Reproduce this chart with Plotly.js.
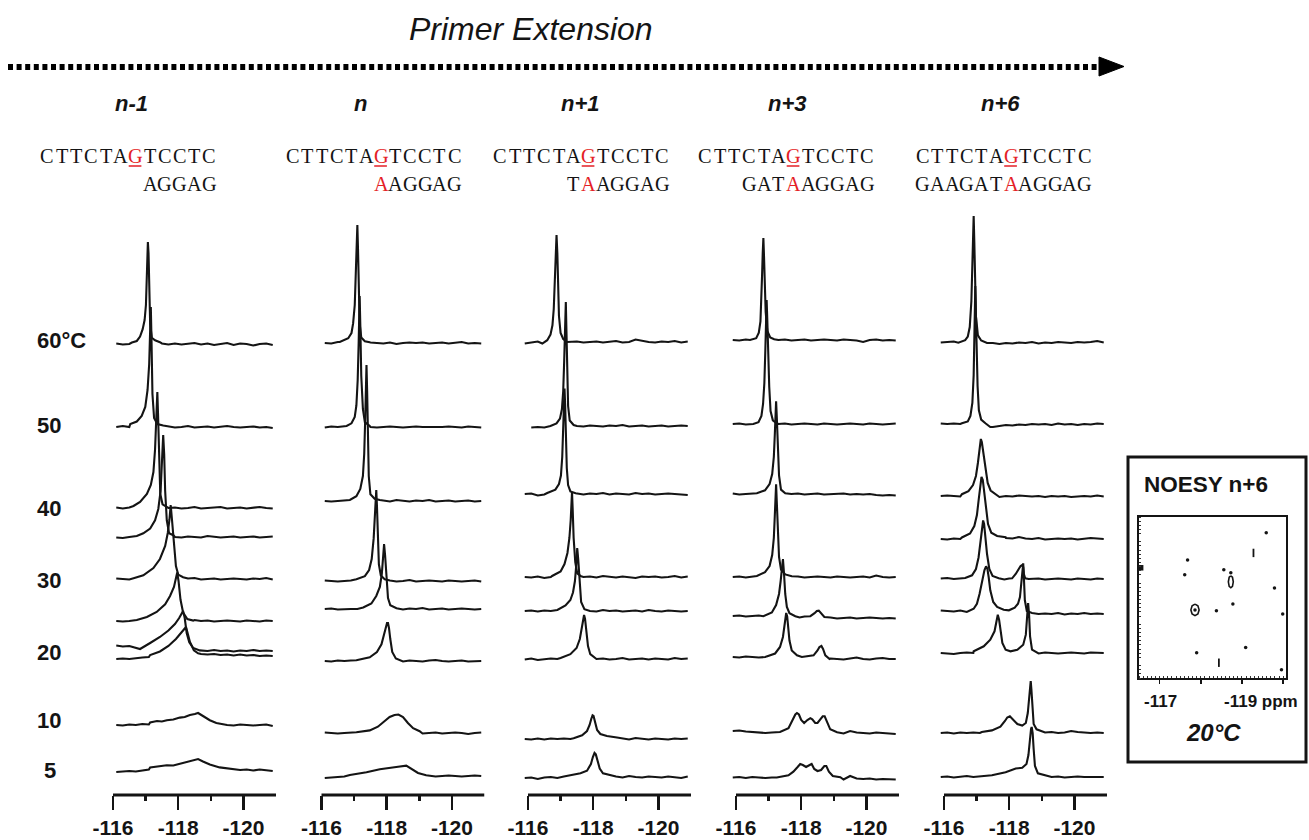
<!DOCTYPE html>
<html><head><meta charset="utf-8">
<script src="https://cdn.plot.ly/plotly-3.0.1.min.js"></script>
<style>html,body{margin:0;padding:0;background:#fff}#chart{width:1309px;height:840px}</style>
</head><body><div id="chart"></div>
<script>
// ---------------- DATA ----------------
const panelNames = ['n-1', 'n', 'n+1', 'n+3', 'n+6'];
const topStrand = 'CTTCTAGTCCTC';
const bottomStrands = ['AGGAG', 'AAGGAG', 'TAAGGAG', 'GATAAGGAG', 'GAAGATAAGGAG'];
const mismatchSlot = 6;
const tempLabels = ['60°C', '50', '40', '30', '20', '10', '5'];
const tempLevels = [455, 370, 287, 215, 143, 75, 25];
const tickVals = [-116, -118, -120];
const tickText = ['-116', '-118', '-120'];

// chemical shift grid (ppm) for baseline noise samples
const baseGrid = [-115.9,-116.1,-116.3,-116.5,-116.7,-116.9,-117.1,-117.3,-117.5,-117.7,-117.9,-118.1,-118.3,-118.5,-118.7,-118.9,-119.1,-119.3,-119.5,-119.7,-119.9,-120.1,-120.3,-120.5,-120.7,-120.9];

// stacking level of each spectrum (top = 60 °C ... bottom = 5 °C)
const nm1Offsets = [451, 368, 287, 258, 216, 174, 149, 138, 70, 25];
const nOffsets   = [452, 368, 294, 214, 186, 134, 62, 19];
const np1Offsets = [453, 369, 301, 218, 184, 136, 56, 18];
const np3Offsets = [455, 371, 301, 218, 177, 136, 62, 16];
const np6Offsets = [453, 371, 299, 256, 216, 184, 142, 62, 18];

// peak regions: [ppm, intensity, ppm, intensity, ...]
const nm1Peaks = [
 [-116.58,1.5,-116.73,3,-116.83,7.4,-116.91,14.8,-116.97,24,-117.01,39,-117.04,65,-117.06,87,-117.07,102,-117.09,91,-117.11,57,-117.14,20,-117.19,6.3,-117.29,3.7,-117.44,1.8],
 [-116.53,3,-116.73,5.5,-116.88,11,-116.99,20,-117.06,37,-117.11,63,-117.14,96,-117.16,120,-117.18,89,-117.21,33,-117.26,9,-117.36,3,-117.54,1.5],
 [-116.63,2,-116.83,6,-117.04,14,-117.16,23,-117.24,36,-117.29,58.5,-117.32,84,-117.34,103,-117.36,116,-117.38,95.5,-117.41,51,-117.45,14,-117.52,3.7,-117.65,1.5],
 [-116.73,1,-116.93,3.7,-117.14,8.5,-117.29,16.7,-117.39,28,-117.46,46,-117.50,68.5,-117.52,87,-117.54,102,-117.57,83,-117.60,46,-117.65,16.7,-117.72,3.7,-117.85,1.8],
 [-116.63,0.7,-116.93,3.7,-117.24,11,-117.44,20,-117.60,33,-117.68,46,-117.73,59,-117.77,74,-117.81,59,-117.87,33,-117.93,13,-118.00,4.4,-118.15,1.8],
 [-116.73,1,-117.04,4,-117.34,9,-117.60,16.7,-117.75,25,-117.87,34,-117.93,42,-117.97,48.5,-118.01,40,-118.07,21.5,-118.15,8.5,-118.28,2,-118.46,0.4],
 [-116.83,-3,-117.14,3,-117.44,9,-117.70,15.5,-117.90,22,-118.03,28,-118.10,31.5,-118.15,35,-118.20,28,-118.26,13,-118.34,3.7,-118.46,-2,-118.66,-4.4],
 [-117.14,2,-117.44,5.5,-117.70,11,-117.93,18,-118.10,24,-118.20,28,-118.24,30,-118.28,25,-118.36,15,-118.48,6.7,-118.61,3.7],
 [-117.14,2.6,-117.35,4,-117.5,3.5,-117.65,4.8,-117.85,5.5,-118.05,7.4,-118.2,8,-118.36,10,-118.51,11,-118.61,12,-118.76,9,-118.97,4.8,-119.17,2,-119.37,0.7],
 [-117.14,2.6,-117.4,3.5,-117.65,4.8,-117.85,4.5,-118.05,6.3,-118.36,8.5,-118.61,11,-118.76,8.5,-118.97,5.5,-119.27,2.6,-119.58,1]
];
const nPeaks = [
 [-116.56,1,-116.82,4.8,-116.92,10,-116.97,19.6,-117.02,38,-117.05,68,-117.08,101,-117.10,118,-117.12,94,-117.14,57,-117.17,19.6,-117.22,5.5,-117.33,1.8,-117.48,0.7],
 [-116.77,1,-116.92,3.7,-117.02,10,-117.07,21.5,-117.11,47,-117.14,84,-117.16,114,-117.17,131,-117.19,103,-117.22,51,-117.27,18,-117.33,4.8,-117.48,1],
 [-116.87,1,-117.07,4.8,-117.19,12,-117.27,25,-117.31,47,-117.34,81,-117.36,110,-117.38,136,-117.40,110,-117.42,66,-117.45,25,-117.50,6.7,-117.63,2.2,-117.79,1],
 [-117.07,1.8,-117.33,4.8,-117.46,11,-117.54,22,-117.60,42.6,-117.64,68.5,-117.66,83,-117.68,91,-117.70,76,-117.73,42.6,-117.76,16.7,-117.82,5.5,-117.94,1.8],
 [-117.28,1.5,-117.53,5.5,-117.68,13,-117.79,22,-117.85,35,-117.89,52,-117.92,65,-117.95,54,-117.99,30,-118.04,11,-118.11,3.7,-118.30,0.7],
 [-117.07,0.7,-117.48,3.7,-117.70,9,-117.84,16.7,-117.92,26,-117.97,33,-118.01,38,-118.04,38,-118.07,33,-118.11,22,-118.17,9,-118.28,2.6,-118.45,0.7],
 [-117.07,0.7,-117.48,2.6,-117.73,6.3,-117.94,12,-118.09,16,-118.24,18,-118.36,18.5,-118.50,16,-118.65,10,-118.81,4.8,-119.01,1.8],
 [-116.87,1,-117.38,3.7,-117.79,6.7,-118.09,8.5,-118.35,9.3,-118.60,10.4,-118.76,7.4,-118.96,3,-119.21,0.7]
];
const np1Peaks = [
 [-116.44,-1.5,-116.59,1.8,-116.69,7.4,-116.75,16.7,-116.79,33,-116.83,67,-116.85,89,-116.875,107,-116.90,89,-116.92,59,-116.95,26,-117.00,9,-117.08,3,-117.20,0],
 [-116.69,0,-116.875,2.6,-116.98,7.4,-117.04,16.7,-117.08,35,-117.11,65,-117.13,94,-117.16,124,-117.18,94,-117.20,57,-117.23,20,-117.28,5.5,-117.40,1],
 [-116.59,1,-116.84,4.4,-116.95,10,-117.01,18.5,-117.05,37,-117.08,67,-117.10,89,-117.12,105.5,-117.14,89,-117.16,59,-117.19,26,-117.23,9,-117.30,2.6,-117.46,0.7],
 [-116.74,1,-117.00,5.5,-117.12,13,-117.21,24,-117.27,39,-117.31,57,-117.33,72,-117.35,85,-117.37,68.5,-117.40,39,-117.45,15,-117.51,3.7,-117.63,0.7],
 [-116.90,1,-117.15,5.5,-117.30,11,-117.38,18.5,-117.44,30,-117.48,46,-117.51,63,-117.54,52,-117.58,28,-117.63,9,-117.73,1.8,-117.86,0],
 [-117.00,1,-117.30,4.8,-117.49,11,-117.59,20,-117.65,30,-117.69,39,-117.72,44,-117.75,40,-117.79,28,-117.84,13,-117.91,4.8,-118.07,1],
 [-117.40,0.7,-117.66,3.7,-117.81,8,-117.89,14,-117.94,20,-117.98,23.7,-118.01,23,-118.05,16.7,-118.12,9,-118.22,5,-118.42,3,-118.73,1.5],
 [-117.30,1.8,-117.61,3.7,-117.81,6.3,-117.93,13,-117.99,20,-118.04,24,-118.08,22.6,-118.13,16,-118.20,8.5,-118.30,3.7,-118.52,1.8]
];
const np3Peaks = [
 [-116.43,0,-116.62,1.8,-116.70,7.4,-116.75,18.5,-116.78,39,-116.80,65,-116.82,87,-116.84,102,-116.86,83,-116.88,57,-116.91,28,-116.96,9,-117.05,2.6,-117.17,0.7],
 [-116.53,0,-116.69,1.8,-116.78,8,-116.83,20,-116.87,41,-116.90,74,-116.92,104,-116.94,124,-116.96,104,-116.98,70,-117.02,37,-117.06,13,-117.13,3.7,-117.25,0.7],
 [-116.64,0.7,-116.89,3.7,-117.03,10,-117.11,20,-117.16,37,-117.19,59,-117.21,78,-117.23,92.6,-117.25,78,-117.28,48,-117.32,18.5,-117.38,4.4,-117.51,0.7],
 [-116.64,1,-116.89,4.8,-117.03,11,-117.11,22,-117.16,39,-117.19,61,-117.21,80,-117.23,92.6,-117.25,76,-117.28,46,-117.32,20,-117.38,7.4,-117.51,2.6,-117.71,0.7],
 [-116.84,1.8,-117.10,5.5,-117.23,13,-117.32,24,-117.37,37,-117.41,48,-117.44,59,-117.47,46,-117.51,24,-117.56,11,-117.64,4.8,-117.82,1.8,-117.95,0.5,-118.1,1.5,-118.28,1.8,-118.41,4.8,-118.48,7,-118.54,7.4,-118.61,4.8,-118.71,1],
 [-116.94,2.6,-117.20,5.5,-117.35,12,-117.44,22,-117.49,33,-117.52,42.6,-117.54,46,-117.57,42.6,-117.60,33,-117.64,18.5,-117.71,8.5,-117.87,3.7,-118.02,2,-118.17,2.6,-118.38,3.7,-118.50,8.5,-118.56,12,-118.62,13,-118.67,10,-118.74,3.7,-118.87,0],
 [-117.35,1,-117.61,4.8,-117.74,13,-117.82,18.5,-117.87,20,-117.93,18.5,-118.00,13,-118.09,10,-118.19,13,-118.28,14.8,-118.34,13.7,-118.43,10,-118.50,10,-118.58,13.7,-118.66,16.7,-118.72,16.7,-118.79,11,-118.89,3.7,-119.10,0.7],
 [-117.25,1.5,-117.61,3.7,-117.76,7.4,-117.89,12,-117.97,15,-118.05,14,-118.15,12,-118.26,14,-118.32,15,-118.40,10,-118.50,8,-118.61,9,-118.71,13,-118.77,13,-118.85,7.4,-118.97,3,-119.20,1.8]
];
const np6Peaks = [
 [-116.44,-0.7,-116.65,1.8,-116.73,5.5,-116.79,15,-116.84,41,-116.87,74,-116.89,107,-116.91,126,-116.93,100,-116.95,63,-116.98,26,-117.04,6.7,-117.14,1.5,-117.32,-1],
 [-116.55,0.7,-116.73,2.6,-116.81,8,-116.87,21,-116.91,49,-116.93,78.5,-116.95,112,-116.96,138,-116.98,108,-117.00,71,-117.03,38,-117.07,13.7,-117.14,4.4,-117.27,0.7,-117.42,-3],
 [-116.55,1.8,-116.75,4.8,-116.89,11,-116.98,20,-117.04,33,-117.08,46,-117.11,54,-117.13,57,-117.16,54,-117.20,44,-117.27,26,-117.34,13,-117.43,5.5,-117.58,1.8],
 [-116.55,1.5,-116.80,5.5,-116.93,13,-117.01,24,-117.07,41,-117.12,55.5,-117.15,62,-117.19,59,-117.23,48,-117.28,29.6,-117.35,15,-117.45,6.3,-117.63,3,-117.89,1.8],
 [-116.65,1,-116.86,3.7,-116.98,10,-117.06,21.5,-117.12,38,-117.16,53,-117.20,58.5,-117.23,55,-117.27,42,-117.32,25,-117.39,10,-117.49,3,-117.68,0.7,-117.85,-0.5,-118.0,0.5,-118.09,0.7,-118.20,5,-118.28,9.5,-118.35,13,-118.40,14,-118.43,12,-118.45,5,-118.49,0.7,-118.6,0],
 [-116.70,-1,-116.91,2.3,-117.01,7.3,-117.09,17,-117.17,30.7,-117.24,40.7,-117.29,44.7,-117.33,42.3,-117.37,34,-117.42,20.7,-117.51,9,-117.63,4,-117.83,1.3,-117.99,0.7,-118.17,3.3,-118.27,7.3,-118.33,14,-118.37,27.3,-118.40,40.7,-118.43,47.7,-118.45,34,-118.48,10.7,-118.54,0,-118.66,-1.7],
 [-116.91,1.7,-117.22,6.7,-117.42,13.3,-117.55,21.7,-117.61,31.7,-117.65,38.3,-117.69,33.3,-117.73,21.7,-117.79,10,-117.89,3.3,-118.04,1.7,-118.25,3.3,-118.43,8.3,-118.51,18.3,-118.55,38.3,-118.58,50,-118.61,38.3,-118.64,16.7,-118.70,3.3,-118.87,0],
 [-117.16,1,-117.47,2.6,-117.73,6.3,-117.87,12,-117.94,15.5,-118.02,16.7,-118.11,13.7,-118.25,9,-118.40,7.4,-118.51,10,-118.57,20,-118.61,37,-118.64,50,-118.66,52,-118.68,44,-118.71,24,-118.75,9,-118.84,3.7,-119.02,1.8],
 [-117.47,1.8,-117.89,4.8,-118.20,8.5,-118.40,9.3,-118.53,13,-118.59,22,-118.63,37,-118.67,48,-118.69,50,-118.72,44,-118.75,28,-118.79,11,-118.88,3.7,-119.12,1.8]
];

// baseline noise read at baseGrid points (null = outside recorded window)
const nm1Noise = [
 [null,0.5,-0.5,0,1, 0,0,0,0.5,-0.5, 0.5,-0.5,0,1,-0.5, 0.5,-1,0,1,-1, 0.5,0,-1.5,0,0.5, -1],
 [null,0,1,0,-0.5, 0,0,0,0,0.5, -0.5,0,1,-0.5,0, 0.5,-0.5,0.5,1,0, -0.5,0,0.5,-0.5,0, -1],
 [null,0.5,-0.5,0.5,0, 0,0,0,0,0, 0.5,-0.5,0,1,-0.5, 0,0.5,1,-0.5,0, 0.5,-0.5,0,1,0, -0.5],
 [null,-0.5,-1,0,0.5, 0,0,0,0,0, 0,-0.5,0.5,0,-0.5, 1,0,-0.5,0,0.5, -0.5,0,0.5,-0.5,0, 0.5],
 [null,0.5,0,-0.5,0, 0,0,0,0,0, 0,0,0.5,1,-0.5, 0,0.5,-0.5,0,0.5, 0,-0.5,0.5,0,1, -0.5],
 [null,0,-0.5,0,0.5, 0,0,0,0,0, 0,0,0,1,0, 0.5,-0.5,0,0.5,0, -0.5,0.5,0,-0.5,0.5, 0],
 [null,0.5,-0.5,0,-1.5, 0,0,0,0,0, 0,0,0,0,-4.5, -5,-4,-5,-4.5,-5.5, -4.5,-5,-4,-5,-4.5, -5],
 [null,-2,-1.5,-2,-1, -0.5,0,0,0,0, 0,0,0,0,3, 2.5,3,2,2.5,1.5, 2.5,1.5,2,1,1.5, 1],
 [null,0,-0.5,0.5,0, 1,0.5,0,0,0, 0,0,0,0,0, 0,0,0,0,-0.5, 0.5,0,-0.5,0,0.5, -1],
 [null,-2,-1.5,-1,-1.5, -0.5,0.5,0,0,0, 0,0,0,0,0, 0,0,0,0,0.5, 0,0.5,-0.5,0.5,-0.5, -1]
];
const nNoise = [
 [null,0,-0.5,1,-0.5, 0,0,0,0.5,0, -0.5,0.5,-1,0,0.5, 0,0.5,-0.5,0,0.5, -0.5,0,1,-0.5,0, -0.5],
 [null,-0.5,0.5,0,1, 0,0,0,0,-0.5, 0,0.5,0,-0.5,0, 0.5,0,0,-0.5,0, 0.5,0,-0.5,0.5,0, -0.5],
 [null,0,-0.5,0,0.5, 0,0,0,0,0, 0.5,-0.5,1,0,-0.5, 0.5,0,1,-0.5,0, 0.5,-0.5,0,0.5,-0.5, 0],
 [null,0.5,0,-0.5,0, 0.5,0,0,0,0, 0,0.5,-0.5,0,1, -0.5,0,0.5,0,-0.5, 0.5,0,-0.5,0,0.5, -0.5],
 [null,0,0.5,-0.5,0, 0,0,0,0,0, 0,0,0,-0.5,0.5, 0,1,-0.5,0,0.5, -0.5,0,0.5,0,-0.5, 0],
 [null,0,-0.5,0.5,0, 0.5,0,0,0,0, 0,0,0,-0.5,0.5, 0,-0.5,0.5,1,0, -0.5,0,0.5,-0.5,-0.5, 0],
 [null,0.5,0,-0.5,0, 0.5,0,0,0,0, 0,0,0,0,0, 0,-0.5,0,0.5,-0.5, 0,0.5,0,-1,0, 0.5],
 [null,-2,-1.5,-1,-0.5, 0,0,0,0,0, 0,0,0,0,0, 0,0,0.5,-0.5,0, 0.5,0,-0.5,0,0.5, 0]
];
const np1Noise = [
 [-1.5,-0.5,0.5,-1,0.5, 0,0,0,0.5,-0.5, 0,0.5,-0.5,0,1, -0.5,0,2.5,1,0, -0.5,0.5,0,1,-0.5, 0.5],
 [null,-1.5,-1,-1.5,-0.5, 0,0,0,0,-0.5, 0.5,0,-0.5,0.5,0, 1,-0.5,0,0.5,-0.5, 0,0.5,-0.5,0,0.5, 0],
 [0,0.5,-1.5,-0.5,0.5, 0,0,0,0.5,-0.5, 0.5,0,1,-0.5,0.5, 0,-0.5,1,0,0.5, -0.5,0,0.5,0,-0.5, -1],
 [0,-0.5,0.5,-1,0, 0.5,0,0,0,0, 0.5,-0.5,1,0,-0.5, 0.5,0,-1,0.5,0, 0.5,-0.5,0,1,-0.5, 0.5],
 [0,0.5,-0.5,0.5,0, 0,0,0,0,0, 0,-0.5,1,0,0.5, -0.5,0,0.5,-0.5,1, 0,-0.5,0.5,0,-0.5, 0],
 [-0.5,0.5,-1,0,0.5, 0,0,0,0,0, 0,0,0.5,-0.5,0, 1,-0.5,0,0.5,-0.5, 0.5,0,-0.5,1,0, 0.5],
 [0,-0.5,0.5,-0.5,0.5, 0,0.5,0,0,0, 0,0,0,0,0, 0.5,-0.5,1,0,-0.5, 0.5,0,-0.5,0.5,0, 0.5],
 [-1,-0.5,-2,-0.5,0, -1,0.5,0,0,0, 0,0,0,0,0.5, -0.5,1,0,-0.5,0.5, 0,-0.5,0.5,0,-1, 0.5]
];
const np3Noise = [
 [0,-0.5,0.5,0,0, 0,0,0,0.5,-0.5, 0,0.5,-0.5,0,0.5, 0,-0.5,0.5,0,-0.5, -2,0,0.5,-0.5,0, -0.5],
 [0,0.5,-0.5,0,0, 0,0,0,0.5,-0.5, 0,0.5,0,-0.5,0.5, 0,-0.5,0,0.5,0, -0.5,0.5,0,-0.5,0, 0.5],
 [0.5,-0.5,0,0.5,0, 0,0,0,-0.5,0, 0.5,-0.5,0,0.5,-0.5, 0,0,0.5,-0.5,0, -0.5,0,-1,-1.5,-1, -1.5],
 [0,0.5,-0.5,0,0.5, 0,0,0,0,0, 0.5,-0.5,0,0.5,0, -0.5,0.5,0,-0.5,0, 0.5,-0.5,1.5,0,-0.5, 0],
 [2,2.5,1.5,2,2.5, 0,0,0,0,0, 0,0,0,0,0, 0.5,-0.5,0,0.5,-0.5, 0,0.5,0,-0.5,0, -0.5],
 [2,1.5,2.5,2,1.5, 2,0,0,0,0, 0,0,0,0,0, 0.5,0,-0.5,0.5,1.5, 0,-0.5,0.5,1,0, 0],
 [2,2.5,1.5,1,0.5, 0,0.5,1,0,0, 0,0,0,0,0, 0,0.5,-0.5,2,0.5, 0,-0.5,0.5,0,-1, -1],
 [1.5,2,1,2,1.5, 1,1.5,0,0,0, 0,0,0,0,0, 0,0,-0.5,3,0.5, 0,0.5,-0.5,0,-0.5, -0.5]
];
const np6Noise = [
 [-0.5,0,0.5,-0.5,0, 0,0,0,-1,-2, -1,-1.5,-0.5,-1,0, -1.5,-0.5,-1,0,-0.5, -1,0,-0.5,0,1, -0.5],
 [0.5,0,0.5,0,0, 0,0,0,-3,-2, -1,-1.5,-0.5,-1,0, -0.5,0,-1,0.5,-0.5, 0,-1,0,-0.5,0.5, 0],
 [0,0.5,0,-0.5,0.5, 0,0,0,0,-1, 0,-0.5,0.5,0,-0.5, 0,-1,0,-0.5,0, -1,-0.5,0,-0.5,0.5, -0.5],
 [0,-0.5,0.5,0,0.5, 0,0,0,0,0, 1,0.5,2,0.5,0, 1,-0.5,0,0.5,0, 0.5,-0.5,0,1,0.5, 0],
 [0.5,1,0,0.5,0, 0,0,0,0,0, 0,0,0,0,0, 0.5,-0.5,0,0.5,0, -0.5,0.5,0,-0.5,0.5, 0],
 [0.5,0,-0.5,0.5,-1, 0,0,0,0,0, 0,0,0,0,-2, -3,-2.5,-3,-2,-3.5, -2.5,-3,-2,-3,-2.5, -3],
 [0,-0.5,-1,0,0.5, 0,0,0,0,0, 0,0,0,0,0, -0.5,0.5,0,-0.5,0, 0.5,0,-0.5,0.5,0, 0],
 [0,0.5,-0.5,0.5,0, 0.5,0,0,0,0, 0,0,0,0,0, 0,0.5,1,0,0.5, 2,1,0.5,0,0.5, 0],
 [0,0.5,-0.5,0,1, 0,0.5,1,0,0, 0,0,0,0,0, 0,0.5,0,0.5,-0.5, 0,0.5,0,0,0.5, 0]
];

// NOESY n+6 inset (20 °C): cross-peak / noise specks (ppm)
const noesyDotX = [-119.59, -117.68, -117.61, -118.56, -119.79, -118.38, -118.78, -119.99, -117.90, -119.09, -119.96, -117.86, -118.73];
const noesyDotY = [-116.88, -117.54, -117.90, -117.78, -118.22, -118.77, -118.61, -118.85, -119.79, -119.66, -120.20, -118.75, -117.85];
const noesyDashX = [-119.28, -118.44];
const noesyDashY = [-117.37, -120.03];
const noesyEdgeDotX = [-116.54];
const noesyEdgeDotY = [-117.73];
const noesyRingAX = [-118.73,-118.77,-118.79,-118.77,-118.73,-118.69,-118.67,-118.69,-118.73];
const noesyRingAY = [-117.925,-117.96,-118.07,-118.18,-118.215,-118.18,-118.07,-117.96,-117.925];
const noesyRingBX = [-117.86,-117.93,-117.96,-117.93,-117.86,-117.79,-117.76,-117.79,-117.86];
const noesyRingBY = [-118.61,-118.65,-118.75,-118.85,-118.89,-118.85,-118.75,-118.65,-118.61];

// ---------------- DRAWING ----------------
const W = 1309, H = 840;
const fx = p => p / W, fy = p => 1 - p / H;
const SANS = 'Liberation Sans, Arial, sans-serif';
const SERIF = 'Liberation Serif, Times New Roman, serif';
const INK = '#141414';
const RED = '#e41e26';
const panelLeft = [113, 321.5, 528, 736, 944];   // pixel of -116 ppm
const pxPerPpm = 32.6;
const seqLeft = [40, 285.5, 493, 698, 915.5];
const slotW = 14.7;
const seqFont = 20.3;

function buildSpectrum(peak, noise, off) {
  const first = peak[0], last = peak[peak.length - 2];
  const pts = [];
  baseGrid.forEach((g, i) => {
    if (noise[i] === null || noise[i] === undefined) return;
    if (g <= first && g >= last) return;
    pts.push([g, noise[i]]);
  });
  for (let i = 0; i < peak.length; i += 2) pts.push([peak[i], peak[i + 1]]);
  pts.sort((a, b) => b[0] - a[0]);
  return { x: pts.map(p => p[0]), y: pts.map(p => p[1] + off) };
}

const panelData = [
  [nm1Peaks, nm1Noise, nm1Offsets],
  [nPeaks, nNoise, nOffsets],
  [np1Peaks, np1Noise, np1Offsets],
  [np3Peaks, np3Noise, np3Offsets],
  [np6Peaks, np6Noise, np6Offsets]
];

const traces = [];
panelData.forEach((pd, k) => {
  const [peaks, noise, offs] = pd;
  peaks.forEach((pk, j) => {
    const s = buildSpectrum(pk, noise[j], offs[j]);
    traces.push({
      type: 'scatter', mode: 'lines', x: s.x, y: s.y,
      xaxis: k === 0 ? 'x' : 'x' + (k + 1), yaxis: 'y',
      line: { color: INK, width: 2.1 }, hoverinfo: 'skip', showlegend: false
    });
  });
});

// NOESY inset traces
traces.push({ type: 'scatter', mode: 'markers', x: noesyDotX, y: noesyDotY, xaxis: 'x6', yaxis: 'y2',
  marker: { color: INK, size: 3.5, symbol: 'circle' }, hoverinfo: 'skip', showlegend: false });
traces.push({ type: 'scatter', mode: 'markers', x: noesyEdgeDotX, y: noesyEdgeDotY, xaxis: 'x6', yaxis: 'y2',
  marker: { color: INK, size: 5.5, symbol: 'square' }, hoverinfo: 'skip', showlegend: false, cliponaxis: false });
traces.push({ type: 'scatter', mode: 'markers', x: noesyDashX, y: noesyDashY, xaxis: 'x6', yaxis: 'y2',
  marker: { color: INK, size: 6, symbol: 'line-ns', line: { color: INK, width: 1.8 } }, hoverinfo: 'skip', showlegend: false });
[[noesyRingAX, noesyRingAY], [noesyRingBX, noesyRingBY]].forEach(r => {
  traces.push({ type: 'scatter', mode: 'lines', x: r[0], y: r[1], xaxis: 'x6', yaxis: 'y2',
    line: { color: INK, width: 1.6 }, hoverinfo: 'skip', showlegend: false });
});

const layout = {
  width: W, height: H, autosize: false,
  margin: { l: 0, r: 0, t: 0, b: 0, pad: 0 },
  paper_bgcolor: '#fff', plot_bgcolor: 'rgba(0,0,0,0)',
  showlegend: false,
  yaxis: { domain: [fy(795), 1], range: [0, 795], visible: false, fixedrange: true },
  yaxis2: {
    domain: [fy(678), fy(517)], range: [-120.4, -116.5], anchor: 'x6',
    showline: true, mirror: true, linewidth: 2, linecolor: INK,
    ticks: '', showticklabels: false, showgrid: false, zeroline: false,
    minor: { ticks: 'inside', dtick: 0.1, tick0: -116.5, ticklen: 2, tickwidth: 1, tickcolor: '#333' }
  },
  xaxis6: {
    domain: [fx(1139), fx(1286)], range: [-116.5, -120.07], anchor: 'y2',
    showline: true, mirror: true, linewidth: 2, linecolor: INK,
    ticks: 'outside', tickmode: 'linear', tick0: -117, dtick: 1, ticklen: 4, tickwidth: 1.5, tickcolor: INK,
    showticklabels: false, showgrid: false, zeroline: false,
    minor: { ticks: 'inside', dtick: 0.1, tick0: -116.5, ticklen: 2, tickwidth: 1, tickcolor: '#333' }
  },
  shapes: [], annotations: []
};

panelLeft.forEach((L, k) => {
  const key = k === 0 ? 'xaxis' : 'xaxis' + (k + 1);
  layout[key] = {
    domain: [fx(L - 0.2 * pxPerPpm), fx(L + 5 * pxPerPpm)],
    range: [-115.8, -121.0], anchor: 'y',
    showline: false, showgrid: false, zeroline: false,
    tickmode: 'array', tickvals: tickVals, ticktext: tickText,
    ticks: 'outside', ticklen: 14, tickwidth: 2.5, tickcolor: INK,
    tickfont: { family: SANS, size: 21, color: INK, weight: 700 },
    minor: { tickvals: [-117, -119], ticks: 'outside', ticklen: 5, tickwidth: 2.5, tickcolor: INK },
    fixedrange: true
  };
  layout.shapes.push({ type: 'line', xref: k === 0 ? 'x' : 'x' + (k + 1), yref: 'paper',
    x0: -116, x1: -121, y0: fy(795), y1: fy(795), line: { color: INK, width: 3 } });
});

// dotted arrow
layout.shapes.push({ type: 'line', xref: 'paper', yref: 'paper', x0: fx(8), x1: fx(1102), y0: fy(67), y1: fy(67),
  line: { color: '#000', width: 6, dash: '5px,3.6px' } });
layout.shapes.push({ type: 'path', xref: 'paper', yref: 'paper',
  path: `M ${fx(1099)} ${fy(57)} L ${fx(1124)} ${fy(66.5)} L ${fx(1099)} ${fy(76)} Z`,
  fillcolor: '#000', line: { color: '#000', width: 1 } });
// inset frame
layout.shapes.push({ type: 'rect', xref: 'paper', yref: 'paper', x0: fx(1128), x1: fx(1306), y0: fy(762), y1: fy(457),
  line: { color: INK, width: 3 }, fillcolor: 'rgba(0,0,0,0)' });

const A = layout.annotations;
const addText = (x, y, text, font, xanchor = 'center', yanchor = 'middle', yref = 'paper') => {
  A.push({ xref: 'paper', yref, x: fx(x), y: yref === 'paper' ? fy(y) : y, text, showarrow: false,
    xanchor, yanchor, font, borderpad: 0 });
};

addText(531, 29, '<i>Primer Extension</i>', { family: SANS, size: 32, color: INK });

const headerX = [131, 360, 580, 787, 1000];
panelNames.forEach((nm, k) => {
  addText(headerX[k], 103, '<b><i>' + nm + '</i></b>', { family: SANS, size: 22, color: INK });
  const x0 = seqLeft[k];
  for (let s = 0; s < topStrand.length; s++) {
    const c = s === mismatchSlot ? RED : INK;
    addText(x0 + (s + 0.5) * slotW, 156, topStrand[s], { family: SERIF, size: seqFont, color: c });
  }
  layout.shapes.push({ type: 'line', xref: 'paper', yref: 'paper',
    x0: fx(x0 + mismatchSlot * slotW + 0.5), x1: fx(x0 + (mismatchSlot + 1) * slotW - 1.5),
    y0: fy(166), y1: fy(166), line: { color: RED, width: 1.5 } });
  const bot = bottomStrands[k];
  const start = topStrand.length - bot.length;
  for (let i = 0; i < bot.length; i++) {
    const s = start + i;
    const c = s === mismatchSlot ? RED : INK;
    addText(x0 + (s + 0.5) * slotW, 184, bot[i], { family: SERIF, size: seqFont, color: c });
  }
});

tempLabels.forEach((t, i) => {
  if (t === '5') addText(50, tempLevels[i], '<b>' + t + '</b>', { family: SANS, size: 22, color: INK }, 'center', 'middle', 'y');
  else addText(36, tempLevels[i], '<b>' + t + '</b>', { family: SANS, size: 22, color: INK }, 'left', 'middle', 'y');
});

addText(1143, 485, '<b>NOESY n+6</b>', { family: SANS, size: 22.5, color: INK }, 'left');
addText(1160, 701, '<b>-117</b>', { family: SANS, size: 17, color: INK });
addText(1261, 701, '<b>-119 ppm</b>', { family: SANS, size: 17, color: INK });
addText(1213, 732, '<b><i>20°C</i></b>', { family: SANS, size: 24, color: INK });

Plotly.newPlot('chart', traces, layout, { staticPlot: true, displayModeBar: false });
</script>
</body></html>
